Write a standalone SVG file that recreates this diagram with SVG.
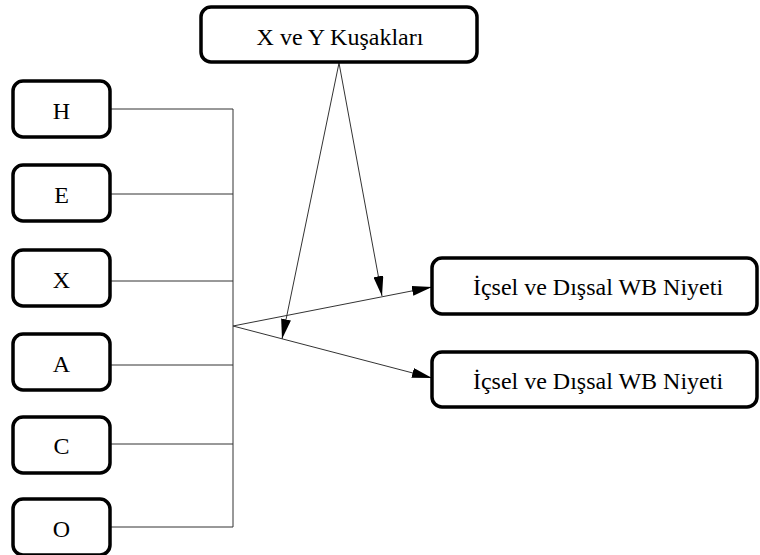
<svg xmlns="http://www.w3.org/2000/svg" width="760" height="555" viewBox="0 0 760 555">
<defs>
<marker id="ah" viewBox="0 0 20 10" refX="20" refY="5" markerWidth="20" markerHeight="10" markerUnits="userSpaceOnUse" orient="auto">
<path d="M0,0 L20,5 L0,10 Z" fill="#000"/>
</marker>
<style>
.box{fill:#fff;stroke:#000;stroke-width:3.5}
.t{font-family:'Liberation Serif','Times New Roman',serif;font-size:24px;fill:#000;text-anchor:middle}
.c{fill:none;stroke:#333;stroke-width:1}
</style>
</defs>
<g id="connectors">
<polyline class="c" points="110,109 233,109 233,527 110,527"/>
<line class="c" x1="110" y1="194" x2="233" y2="194"/>
<line class="c" x1="110" y1="281" x2="233" y2="281"/>
<line class="c" x1="110" y1="365" x2="233" y2="365"/>
<line class="c" x1="110" y1="444" x2="233" y2="444"/>
<line class="c" x1="233" y1="326" x2="432" y2="287" marker-end="url(#ah)"/>
<line class="c" x1="233" y1="326" x2="432" y2="378" marker-end="url(#ah)"/>
<line class="c" x1="339" y1="63" x2="382" y2="296" marker-end="url(#ah)"/>
<line class="c" x1="339" y1="63" x2="282" y2="339" marker-end="url(#ah)"/>
</g>
<g id="top"><rect class="box" x="201" y="7" width="276" height="55" rx="10"/><text class="t" x="340" y="45">X ve Y Kuşakları</text></g>
<g id="H"><rect class="box" x="13" y="81" width="97" height="56" rx="10"/><text class="t" x="61.5" y="119">H</text></g>
<g id="E"><rect class="box" x="13" y="165" width="97" height="56" rx="10"/><text class="t" x="61.5" y="203">E</text></g>
<g id="X"><rect class="box" x="13" y="250" width="97" height="56" rx="10"/><text class="t" x="61.5" y="288">X</text></g>
<g id="A"><rect class="box" x="13" y="334" width="97" height="56" rx="10"/><text class="t" x="61.5" y="372">A</text></g>
<g id="C"><rect class="box" x="13" y="417" width="97" height="56" rx="10"/><text class="t" x="61.5" y="454">C</text></g>
<g id="O"><rect class="box" x="13" y="499" width="97" height="56" rx="10"/><text class="t" x="61.5" y="537">O</text></g>
<g id="R1"><rect class="box" x="432" y="258" width="325" height="56" rx="10"/><text class="t" x="598" y="295">İçsel ve Dışsal WB Niyeti</text></g>
<g id="R2"><rect class="box" x="432" y="352" width="325" height="55" rx="10"/><text class="t" x="598" y="389">İçsel ve Dışsal WB Niyeti</text></g>
</svg>
